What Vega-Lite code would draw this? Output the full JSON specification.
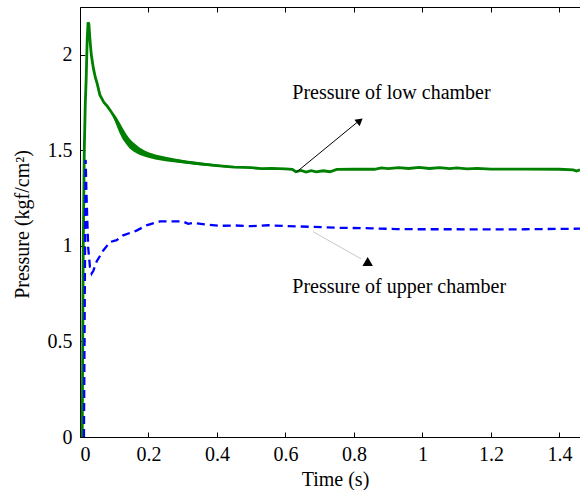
{
  "$schema": "https://vega.github.io/schema/vega-lite/v6.json",
  "width": 500,
  "height": 430,
  "autosize": {"type": "none"},
  "padding": {"left": 80, "top": 7, "right": 0, "bottom": 53},
  "background": "white",
  "config": {
    "view": {"stroke": null},
    "font": "Liberation Serif",
    "axis": {
      "grid": false,
      "domainColor": "black",
      "tickColor": "black",
      "labelColor": "black",
      "titleColor": "black",
      "labelFont": "Liberation Serif",
      "titleFont": "Liberation Serif",
      "labelFontSize": 20,
      "titleFontSize": 20,
      "titleFontWeight": "normal",
      "domainWidth": 1,
      "tickWidth": 1
    }
  },
  "datasets": {
    "low": [
      {"t": 0.0065, "p": 0}, {"t": 0.0095, "p": 1.0}, {"t": 0.0125, "p": 1.5}, {"t": 0.0155, "p": 1.75},
      {"t": 0.018, "p": 1.87}, {"t": 0.021, "p": 2.08}, {"t": 0.0235, "p": 2.17}, {"t": 0.026, "p": 2.16},
      {"t": 0.029, "p": 2.08}, {"t": 0.033, "p": 2.0}, {"t": 0.039, "p": 1.93}, {"t": 0.045, "p": 1.88},
      {"t": 0.05, "p": 1.85}, {"t": 0.058, "p": 1.79}, {"t": 0.07, "p": 1.75}, {"t": 0.08, "p": 1.73},
      {"t": 0.09, "p": 1.705}, {"t": 0.1, "p": 1.675}, {"t": 0.11, "p": 1.64}, {"t": 0.12, "p": 1.6},
      {"t": 0.13, "p": 1.57}, {"t": 0.14, "p": 1.545}, {"t": 0.15, "p": 1.525}, {"t": 0.16, "p": 1.51},
      {"t": 0.17, "p": 1.5}, {"t": 0.18, "p": 1.49}, {"t": 0.2, "p": 1.474}, {"t": 0.22, "p": 1.464},
      {"t": 0.25, "p": 1.454}, {"t": 0.28, "p": 1.446}, {"t": 0.31, "p": 1.438}, {"t": 0.35, "p": 1.429},
      {"t": 0.4, "p": 1.42}, {"t": 0.45, "p": 1.412}, {"t": 0.5, "p": 1.409}, {"t": 0.53, "p": 1.404},
      {"t": 0.56, "p": 1.406}, {"t": 0.6, "p": 1.403}, {"t": 0.62, "p": 1.4}, {"t": 0.63, "p": 1.388},
      {"t": 0.645, "p": 1.395}, {"t": 0.66, "p": 1.386}, {"t": 0.675, "p": 1.394}, {"t": 0.69, "p": 1.387},
      {"t": 0.71, "p": 1.393}, {"t": 0.73, "p": 1.388}, {"t": 0.75, "p": 1.4}, {"t": 0.8, "p": 1.402},
      {"t": 0.86, "p": 1.401}, {"t": 0.88, "p": 1.408}, {"t": 0.9, "p": 1.404}, {"t": 0.93, "p": 1.41},
      {"t": 0.96, "p": 1.405}, {"t": 0.99, "p": 1.411}, {"t": 1.02, "p": 1.405}, {"t": 1.05, "p": 1.409},
      {"t": 1.08, "p": 1.404}, {"t": 1.1, "p": 1.408}, {"t": 1.13, "p": 1.403}, {"t": 1.16, "p": 1.406},
      {"t": 1.2, "p": 1.402}, {"t": 1.3, "p": 1.402}, {"t": 1.4, "p": 1.401}, {"t": 1.44, "p": 1.398},
      {"t": 1.45, "p": 1.392}, {"t": 1.46, "p": 1.398}
    ],
    "band": [
      {"t": 0.095, "lo": 1.685, "hi": 1.7},
      {"t": 0.105, "lo": 1.638, "hi": 1.678},
      {"t": 0.115, "lo": 1.592, "hi": 1.648},
      {"t": 0.125, "lo": 1.557, "hi": 1.615},
      {"t": 0.135, "lo": 1.532, "hi": 1.585},
      {"t": 0.145, "lo": 1.51, "hi": 1.56},
      {"t": 0.155, "lo": 1.495, "hi": 1.542},
      {"t": 0.165, "lo": 1.485, "hi": 1.528},
      {"t": 0.175, "lo": 1.476, "hi": 1.513},
      {"t": 0.19, "lo": 1.466, "hi": 1.498},
      {"t": 0.2, "lo": 1.461, "hi": 1.49},
      {"t": 0.22, "lo": 1.452, "hi": 1.478},
      {"t": 0.25, "lo": 1.443, "hi": 1.466},
      {"t": 0.28, "lo": 1.436, "hi": 1.456},
      {"t": 0.31, "lo": 1.43, "hi": 1.447},
      {"t": 0.35, "lo": 1.422, "hi": 1.437},
      {"t": 0.4, "lo": 1.414, "hi": 1.426},
      {"t": 0.45, "lo": 1.408, "hi": 1.416}
    ],
    "upper": [
      {"t": 0.0115, "p": 0}, {"t": 0.0135, "p": 0.6}, {"t": 0.0155, "p": 1.2}, {"t": 0.0165, "p": 1.45},
      {"t": 0.0185, "p": 1.3}, {"t": 0.021, "p": 1.15}, {"t": 0.024, "p": 0.99}, {"t": 0.029, "p": 0.89},
      {"t": 0.034, "p": 0.855}, {"t": 0.039, "p": 0.87}, {"t": 0.049, "p": 0.92}, {"t": 0.068, "p": 0.976},
      {"t": 0.0875, "p": 1.02}, {"t": 0.107, "p": 1.03}, {"t": 0.126, "p": 1.055}, {"t": 0.165, "p": 1.08},
      {"t": 0.194, "p": 1.107}, {"t": 0.233, "p": 1.128}, {"t": 0.3, "p": 1.128}, {"t": 0.316, "p": 1.115},
      {"t": 0.33, "p": 1.12}, {"t": 0.37, "p": 1.112}, {"t": 0.41, "p": 1.105}, {"t": 0.45, "p": 1.107},
      {"t": 0.5, "p": 1.103}, {"t": 0.55, "p": 1.108}, {"t": 0.6, "p": 1.104}, {"t": 0.67, "p": 1.1},
      {"t": 0.75, "p": 1.095}, {"t": 0.85, "p": 1.092}, {"t": 0.925, "p": 1.088}, {"t": 1.0, "p": 1.087},
      {"t": 1.1, "p": 1.087}, {"t": 1.2, "p": 1.086}, {"t": 1.3, "p": 1.087}, {"t": 1.4, "p": 1.089},
      {"t": 1.46, "p": 1.09}
    ],
    "labels": [
      {"t": 0.62, "p": 1.8, "label": "Pressure of low chamber"},
      {"t": 0.62, "p": 0.785, "label": "Pressure of upper chamber"}
    ],
    "arrows": [
      {"t": 0.632, "p": 1.386, "t2": 0.815, "p2": 1.655, "c": "black"},
      {"t": 0.68, "p": 1.075, "t2": 0.821, "p2": 0.932, "c": "#c8c8c8"}
    ],
    "heads": [
      {"t": 0.817, "p": 1.655, "ang": 51, "sz": 70},
      {"t": 0.84, "p": 0.918, "ang": 0, "sz": 110}
    ]
  },
  "layer": [
    {
      "data": {"name": "band"},
      "mark": {"type": "area", "color": "#008000", "opacity": 1, "clip": true},
      "encoding": {
        "x": {
          "field": "t", "type": "quantitative",
          "scale": {"domain": [0, 1.46], "nice": false, "zero": false},
          "axis": {
            "orient": "bottom", "title": "Time (s)",
            "values": [0, 0.2, 0.4, 0.6, 0.8, 1, 1.2, 1.4],
            "labelExpr": "'' + datum.value",
            "tickSize": -5, "labelPadding": 12, "titlePadding": 5,
            "titleX": 255
          }
        },
        "y": {
          "field": "lo", "type": "quantitative",
          "scale": {"domain": [0, 2.25], "nice": false},
          "axis": {
            "orient": "left", "title": "Pressure (kgf/cm²)",
            "values": [0, 0.5, 1, 1.5, 2],
            "labelExpr": "'' + datum.value",
            "tickSize": -5, "labelPadding": 13,
            "titleX": -58, "titleY": 217, "titleAngle": 270,
            "titleBaseline": "middle", "titleAlign": "center"
          }
        },
        "y2": {"field": "hi"}
      }
    },
    {
      "data": {"name": "low"},
      "mark": {"type": "line", "color": "#008000", "strokeWidth": 2.8, "clip": true},
      "encoding": {
        "x": {"field": "t", "type": "quantitative", "axis": null},
        "y": {"field": "p", "type": "quantitative"}
      }
    },
    {
      "data": {"name": "upper"},
      "mark": {"type": "line", "color": "#0000ff", "strokeWidth": 2.3, "strokeDash": [8, 5], "clip": true},
      "encoding": {
        "x": {"field": "t", "type": "quantitative",
          "axis": {"orient": "top", "title": null, "labels": false, "tickSize": -5,
                   "values": [0, 0.2, 0.4, 0.6, 0.8, 1, 1.2, 1.4]}},
        "y": {"field": "p", "type": "quantitative"}
      }
    },
    {
      "data": {"name": "arrows"},
      "mark": {"type": "rule", "strokeWidth": 1},
      "encoding": {
        "x": {"field": "t", "type": "quantitative", "axis": null},
        "y": {"field": "p", "type": "quantitative"},
        "x2": {"field": "t2"},
        "y2": {"field": "p2"},
        "color": {"field": "c", "type": "nominal", "scale": null}
      }
    },
    {
      "data": {"name": "heads"},
      "mark": {"type": "point", "shape": "triangle-up", "filled": true, "color": "black", "opacity": 1},
      "encoding": {
        "x": {"field": "t", "type": "quantitative", "axis": null},
        "y": {"field": "p", "type": "quantitative"},
        "angle": {"field": "ang", "type": "quantitative", "scale": null},
        "size": {"field": "sz", "type": "quantitative", "scale": null}
      }
    },
    {
      "data": {"name": "labels"},
      "mark": {"type": "text", "align": "left", "baseline": "middle", "font": "Liberation Serif", "fontSize": 20, "color": "black"},
      "encoding": {
        "x": {"field": "t", "type": "quantitative", "axis": null},
        "y": {"field": "p", "type": "quantitative"},
        "text": {"field": "label"}
      }
    }
  ],
  "resolve": {"axis": {"x": "independent"}}
}
